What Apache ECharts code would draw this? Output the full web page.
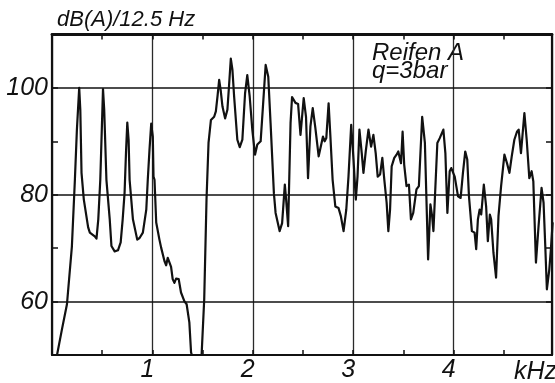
<!DOCTYPE html>
<html>
<head>
<meta charset="utf-8">
<script src="https://cdn.jsdelivr.net/npm/echarts@6/dist/echarts.min.js"></script>
<style>
  html, body { margin: 0; padding: 0; background: #fff; }
  #chart { width: 555px; height: 383px; }
</style>
</head>
<body>
<div id="chart"></div>
<script>
// Narrow-band A-weighted spectrum, tyre "Reifen A" at 3 bar: [frequency kHz, level dB(A)]
const lowBand = [
  [0.050,50.0],[0.099,54.8],[0.149,59.5],[0.198,70.3],[0.228,82.8],[0.248,92.2],[0.271,100.0],
  [0.282,95.9],[0.294,84.1],[0.317,79.1],[0.360,73.9],[0.377,72.9],[0.426,72.2],[0.443,71.8],
  [0.461,75.4],[0.481,82.8],[0.496,92.2],[0.508,99.8],[0.520,95.9],[0.542,82.8],[0.575,75.4],
  [0.592,70.4],[0.624,69.4],[0.657,69.6],[0.684,71.1],[0.704,75.4],[0.723,80.4],[0.738,88.4],
  [0.750,93.5],[0.763,90.3],[0.773,82.8],[0.806,75.4],[0.849,71.6],[0.872,71.9],[0.905,72.9],
  [0.939,77.2],[0.954,82.8],[0.971,88.4],[0.988,93.3],[1.004,90.9],[1.011,83.4],[1.021,82.8],
  [1.038,74.8],[1.070,71.6],[1.087,70.1],[1.103,69.8],[1.120,67.6],[1.137,66.8],[1.153,68.2],
  [1.186,66.5],[1.202,64.2],[1.219,63.5],[1.236,64.3],[1.262,64.2],[1.285,61.7],[1.318,60.1],
  [1.341,59.5],[1.368,56.1],[1.385,50.5],[1.393,50.0],[1.490,50.0]
];
const midBand = [
  [1.516,60.4],[1.539,79.1],[1.559,89.7],[1.583,94.0],[1.615,94.6],[1.632,95.6],[1.650,98.7],
  [1.665,101.5],[1.680,99.6],[1.698,96.5],[1.724,94.3],[1.747,95.9],[1.764,100.6],[1.781,105.5],
  [1.797,103.4],[1.814,98.4],[1.846,90.3],[1.870,88.9],[1.896,90.3],[1.923,99.0],[1.945,102.4],
  [1.969,98.4],[1.995,92.2],[2.022,87.5],[2.045,89.4],[2.078,90.0],[2.101,96.5],[2.128,104.3],
  [2.154,102.1],[2.177,93.4],[2.210,80.3],[2.227,76.6],[2.243,76.9],[2.267,73.2],[2.292,74.7],
  [2.319,81.9],[2.332,79.1],[2.352,74.1],[2.376,93.4],[2.391,98.3],[2.425,97.2],[2.451,97.0],
  [2.475,91.2]
];
const highBand = [
  [2.507,98.1],[2.530,94.6],[2.550,83.1],[2.574,92.8],[2.597,96.2],[2.623,92.5],[2.656,87.2],
  [2.673,86.9],[2.699,90.9],[2.716,90.0],[2.732,90.6],[2.755,97.1],[2.772,91.2],[2.795,82.8],
  [2.822,77.8],[2.854,77.5],[2.877,76.0],[2.904,73.2],[2.931,77.2],[2.953,83.4],[2.980,93.1],
  [3.003,86.6],[3.026,79.1],[3.043,83.4],[3.062,92.2],[3.085,87.8],[3.102,84.1],[3.125,88.1],
  [3.152,92.2],[3.178,89.0],[3.201,91.2],[3.224,87.8],[3.244,83.4],[3.268,83.8],[3.290,86.9],
  [3.310,82.8],[3.333,78.5],[3.350,73.2],[3.367,77.2],[3.383,85.3],[3.409,86.9],[3.432,87.5],
  [3.449,88.1],[3.476,85.9],[3.492,91.8],[3.508,85.6],[3.531,81.6],[3.555,81.9],[3.575,75.4],
  [3.598,76.6],[3.630,81.0],[3.654,81.6],[3.687,94.6],[3.714,89.7],[3.746,67.9],[3.769,78.2],
  [3.786,76.0],[3.799,73.2],[3.813,79.1],[3.838,89.7],[3.862,90.6],[3.878,90.3],[3.898,92.2],
  [3.918,87.8],[3.938,76.6],[3.961,84.4],[3.977,85.0],[4.011,83.4],[4.044,79.7],[4.070,79.4],
  [4.093,84.1],[4.116,88.1],[4.136,86.6],[4.153,79.7],[4.182,73.2],[4.209,72.9],[4.225,69.8],
  [4.242,75.4],[4.259,77.2],[4.275,76.3],[4.301,81.9],[4.324,77.8],[4.341,71.3],[4.361,76.3],
  [4.374,75.4],[4.397,69.1],[4.423,64.5],[4.447,76.0],[4.473,81.6],[4.506,87.5],[4.532,85.9],
  [4.556,84.1],[4.579,87.2],[4.605,90.3],[4.631,91.8],[4.648,92.2],[4.671,87.8],[4.705,95.3],
  [4.728,90.3],[4.754,83.1],[4.777,84.4],[4.794,82.5],[4.820,67.3],[4.846,74.1],[4.876,81.3],
  [4.896,78.5],[4.913,70.4],[4.929,62.3],[4.953,66.0],[4.969,69.8],[4.986,74.7]
];

// Axis ticks and labels
const freqLabels = [1, 2, 3, 4];
const levelLabels = [60, 80, 100];
const levelGridLines = [60, 80, 100];

const ink = '#111';
const labelFont = { fontFamily: '"Liberation Sans", Arial, sans-serif', fontStyle: 'italic', fontSize: 25, color: ink };
const textFont = (px) => 'italic ' + px + 'px "Liberation Sans", Arial, sans-serif';

const spectrum = lowBand.concat(midBand, highBand);

const chart = echarts.init(document.getElementById('chart'), null, { renderer: 'canvas' });

const xCommon = {
  type: 'value', min: 0, max: 4.98, interval: 1,
  axisLine: { show: true, onZero: false, lineStyle: { color: ink, width: 2.2 } },
  axisTick: { show: true, inside: true, length: 5, lineStyle: { color: ink, width: 1.5 } },
  minorTick: { show: true, splitNumber: 2, length: 5, lineStyle: { color: ink, width: 1.5 } },
};
const yCommon = {
  type: 'value', min: 50, max: 110, interval: 10,
  axisLine: { show: true, onZero: false, lineStyle: { color: ink, width: 2.2 } },
  axisTick: { show: true, inside: true, length: 6, lineStyle: { color: ink, width: 1.5 } },
  splitLine: { show: false },
};

chart.setOption({
  animation: false,
  backgroundColor: '#fff',
  grid: { left: 52, top: 34.5, width: 502.5, height: 321.5, containLabel: false },
  xAxis: [
    Object.assign({}, xCommon, {
      position: 'bottom',
      splitLine: { show: true, lineStyle: { color: '#2a2a2a', width: 1.3 } },
      axisLabel: Object.assign({}, labelFont, {
        margin: 3, padding: [0, 10, 0, 0],
        formatter: (v) => freqLabels.includes(v) ? String(v) : ''
      })
    }),
    Object.assign({}, xCommon, {
      position: 'top',
      axisLine: { show: true, onZero: false, lineStyle: { color: ink, width: 2.8 } },
      splitLine: { show: false },
      axisLabel: { show: false }
    })
  ],
  yAxis: [
    Object.assign({}, yCommon, {
      position: 'left',
      axisLabel: Object.assign({}, labelFont, {
        margin: 4, padding: [0, 0, 20, 0],
        formatter: (v) => levelLabels.includes(v) ? String(v) : ''
      })
    }),
    Object.assign({}, yCommon, { position: 'right', axisLabel: { show: false } })
  ],
  series: [{
    type: 'line',
    xAxisIndex: 0, yAxisIndex: 0,
    data: spectrum,
    showSymbol: false,
    symbol: 'none',
    clip: true,
    lineStyle: { color: ink, width: 2.2, join: 'round', cap: 'round' },
    markLine: {
      silent: true,
      symbol: ['none', 'none'],
      label: { show: false },
      lineStyle: { color: ink, width: 1.7, type: 'solid' },
      data: levelGridLines.map((v) => ({ yAxis: v }))
    }
  }],
  graphic: [
    { type: 'text', x: 57, y: 19.5, style: { text: 'dB(A)/12.5 Hz', font: textFont(22), fill: ink, verticalAlign: 'middle' } },
    { type: 'text', x: 372, y: 53.5, style: { text: 'Reifen A', font: textFont(24), fill: ink, verticalAlign: 'middle' } },
    { type: 'text', x: 372, y: 71.5, style: { text: 'q=3bar', font: textFont(24), fill: ink, verticalAlign: 'middle' } },
    { type: 'text', x: 514, y: 372, style: { text: 'kHz', font: textFont(25), fill: ink, verticalAlign: 'middle' } }
  ]
});
</script>
</body>
</html>
